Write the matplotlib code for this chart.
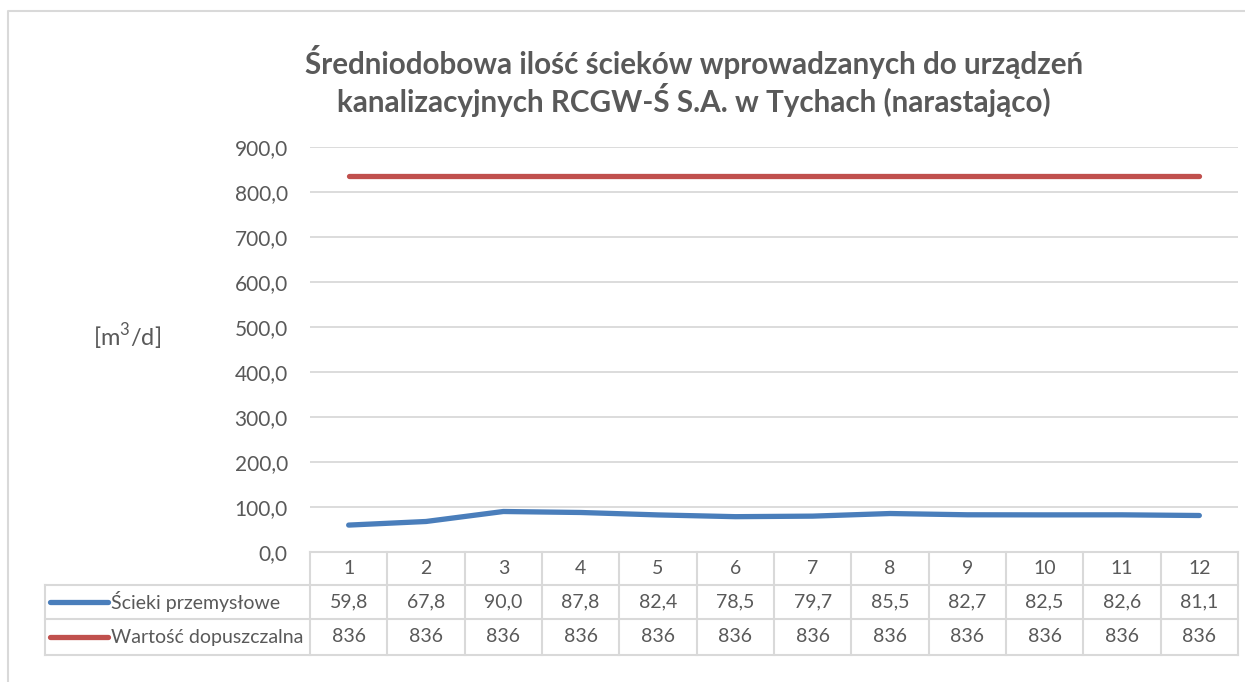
import matplotlib
matplotlib.use("Agg")
import matplotlib.pyplot as plt
from matplotlib.transforms import blended_transform_factory
from matplotlib.lines import Line2D

plt.rcParams['font.family'] = ['Lato', 'DejaVu Sans']
plt.rcParams['mathtext.fontset'] = 'custom'
plt.rcParams['mathtext.rm'] = 'Lato'

# ---- data ----
months = [1, 2, 3, 4, 5, 6, 7, 8, 9, 10, 11, 12]
month_labels = [str(m) for m in months]
scieki = [59.8, 67.8, 90.0, 87.8, 82.4, 78.5, 79.7, 85.5, 82.7, 82.5, 82.6, 81.1]
limit = [836, 836, 836, 836, 836, 836, 836, 836, 836, 836, 836, 836]
series_names = ["Ścieki przemysłowe", "Wartość dopuszczalna"]
title = ("Średniodobowa ilość ścieków wprowadzanych do urządzeń\n"
         "kanalizacyjnych RCGW-Ś S.A. w Tychach (narastająco)")
yticks = [0, 100, 200, 300, 400, 500, 600, 700, 800, 900]

BLUE = "#4A7EBB"
RED = "#C0504D"
GRID = "#D9D9D9"
TXT = "#595959"

W, H = 1245, 682
fig = plt.figure(figsize=(W / 100, H / 100), dpi=100)

def fx(px):
    return px / W

def fy(py):
    return 1 - py / H

# outer chart frame (cropped on right and bottom)
fig.add_artist(Line2D([fx(8), fx(8), fx(1245)], [fy(682), fy(11), fy(11)],
                      color=GRID, lw=1.5, transform=fig.transFigure))

left, right, top, bottom = 310, 1238, 147, 552
ax = fig.add_axes([fx(left), fy(bottom), fx(right - left), (bottom - top) / H])
ax.set_xlim(0.5, 12.5)
ax.set_ylim(0, 900)
for s in ax.spines.values():
    s.set_visible(False)
ax.set_yticks(yticks)
ax.set_yticklabels([f"{v:.1f}".replace(".", ",") for v in yticks])
ax.tick_params(axis='y', length=0, pad=16, labelsize=15, labelcolor=TXT)
ax.set_xticks([])
ax.grid(axis='y', color=GRID, lw=1.3)
ax.set_axisbelow(True)

ax.plot(months, scieki, color=BLUE, lw=3.8, solid_capstyle='round',
        solid_joinstyle='round', zorder=3)
ax.plot(months, limit, color=RED, lw=3.8, solid_capstyle='round',
        solid_joinstyle='round', zorder=3)

fig.text(fx(694), fy(81), title, ha='center', va='center', fontsize=21.3,
         fontweight='bold', color=TXT, linespacing=1.17)

fig.text(fx(127), fy(337), "[m$^{3}$/d]", ha='center', va='center',
         fontsize=17, color=TXT)

# ---- data table ----
axh = bottom - top
def ay(py):
    return (bottom - py) / axh

def axx(px):
    return (px - left) / (right - left)

tb = blended_transform_factory(ax.transData, ax.transAxes)
row_edges = [ay(552), ay(585), ay(619), ay(655)]
tab_left = axx(45)
col_edges = [m - 0.5 for m in months] + [months[-1] + 0.5]

lkw = dict(color=GRID, lw=1.5, clip_on=False, zorder=1)
# horizontal lines
ax.plot([col_edges[0], col_edges[-1]], [row_edges[0]] * 2, transform=tb, **lkw)
for r in row_edges[1:]:
    ax.plot([tab_left, 1.0], [r, r], transform=ax.transAxes, **lkw)
# vertical lines
for c in col_edges:
    ax.plot([c, c], [row_edges[0], row_edges[-1]], transform=tb, **lkw)
ax.plot([tab_left, tab_left], [row_edges[1], row_edges[-1]],
        transform=ax.transAxes, **lkw)

tkw = dict(ha='center', va='center', fontsize=14, color=TXT, clip_on=False)
ymid = [(row_edges[i] + row_edges[i + 1]) / 2 for i in range(3)]
for m, lab, v1, v2 in zip(months, month_labels, scieki, limit):
    ax.text(m, ymid[0], lab, transform=tb, **tkw)
    ax.text(m, ymid[1], f"{v1:.1f}".replace(".", ","), transform=tb, **tkw)
    ax.text(m, ymid[2], f"{v2:d}", transform=tb, **tkw)

for name, col, yy in zip(series_names, [BLUE, RED], ymid[1:]):
    ax.plot([axx(50), axx(108)], [yy, yy], color=col, lw=3.8,
            solid_capstyle='round', transform=ax.transAxes, clip_on=False)
    ax.text(axx(111), yy, name, ha='left', va='center', fontsize=14,
            color=TXT, transform=ax.transAxes, clip_on=False)

fig.savefig("out.png", dpi=100)
